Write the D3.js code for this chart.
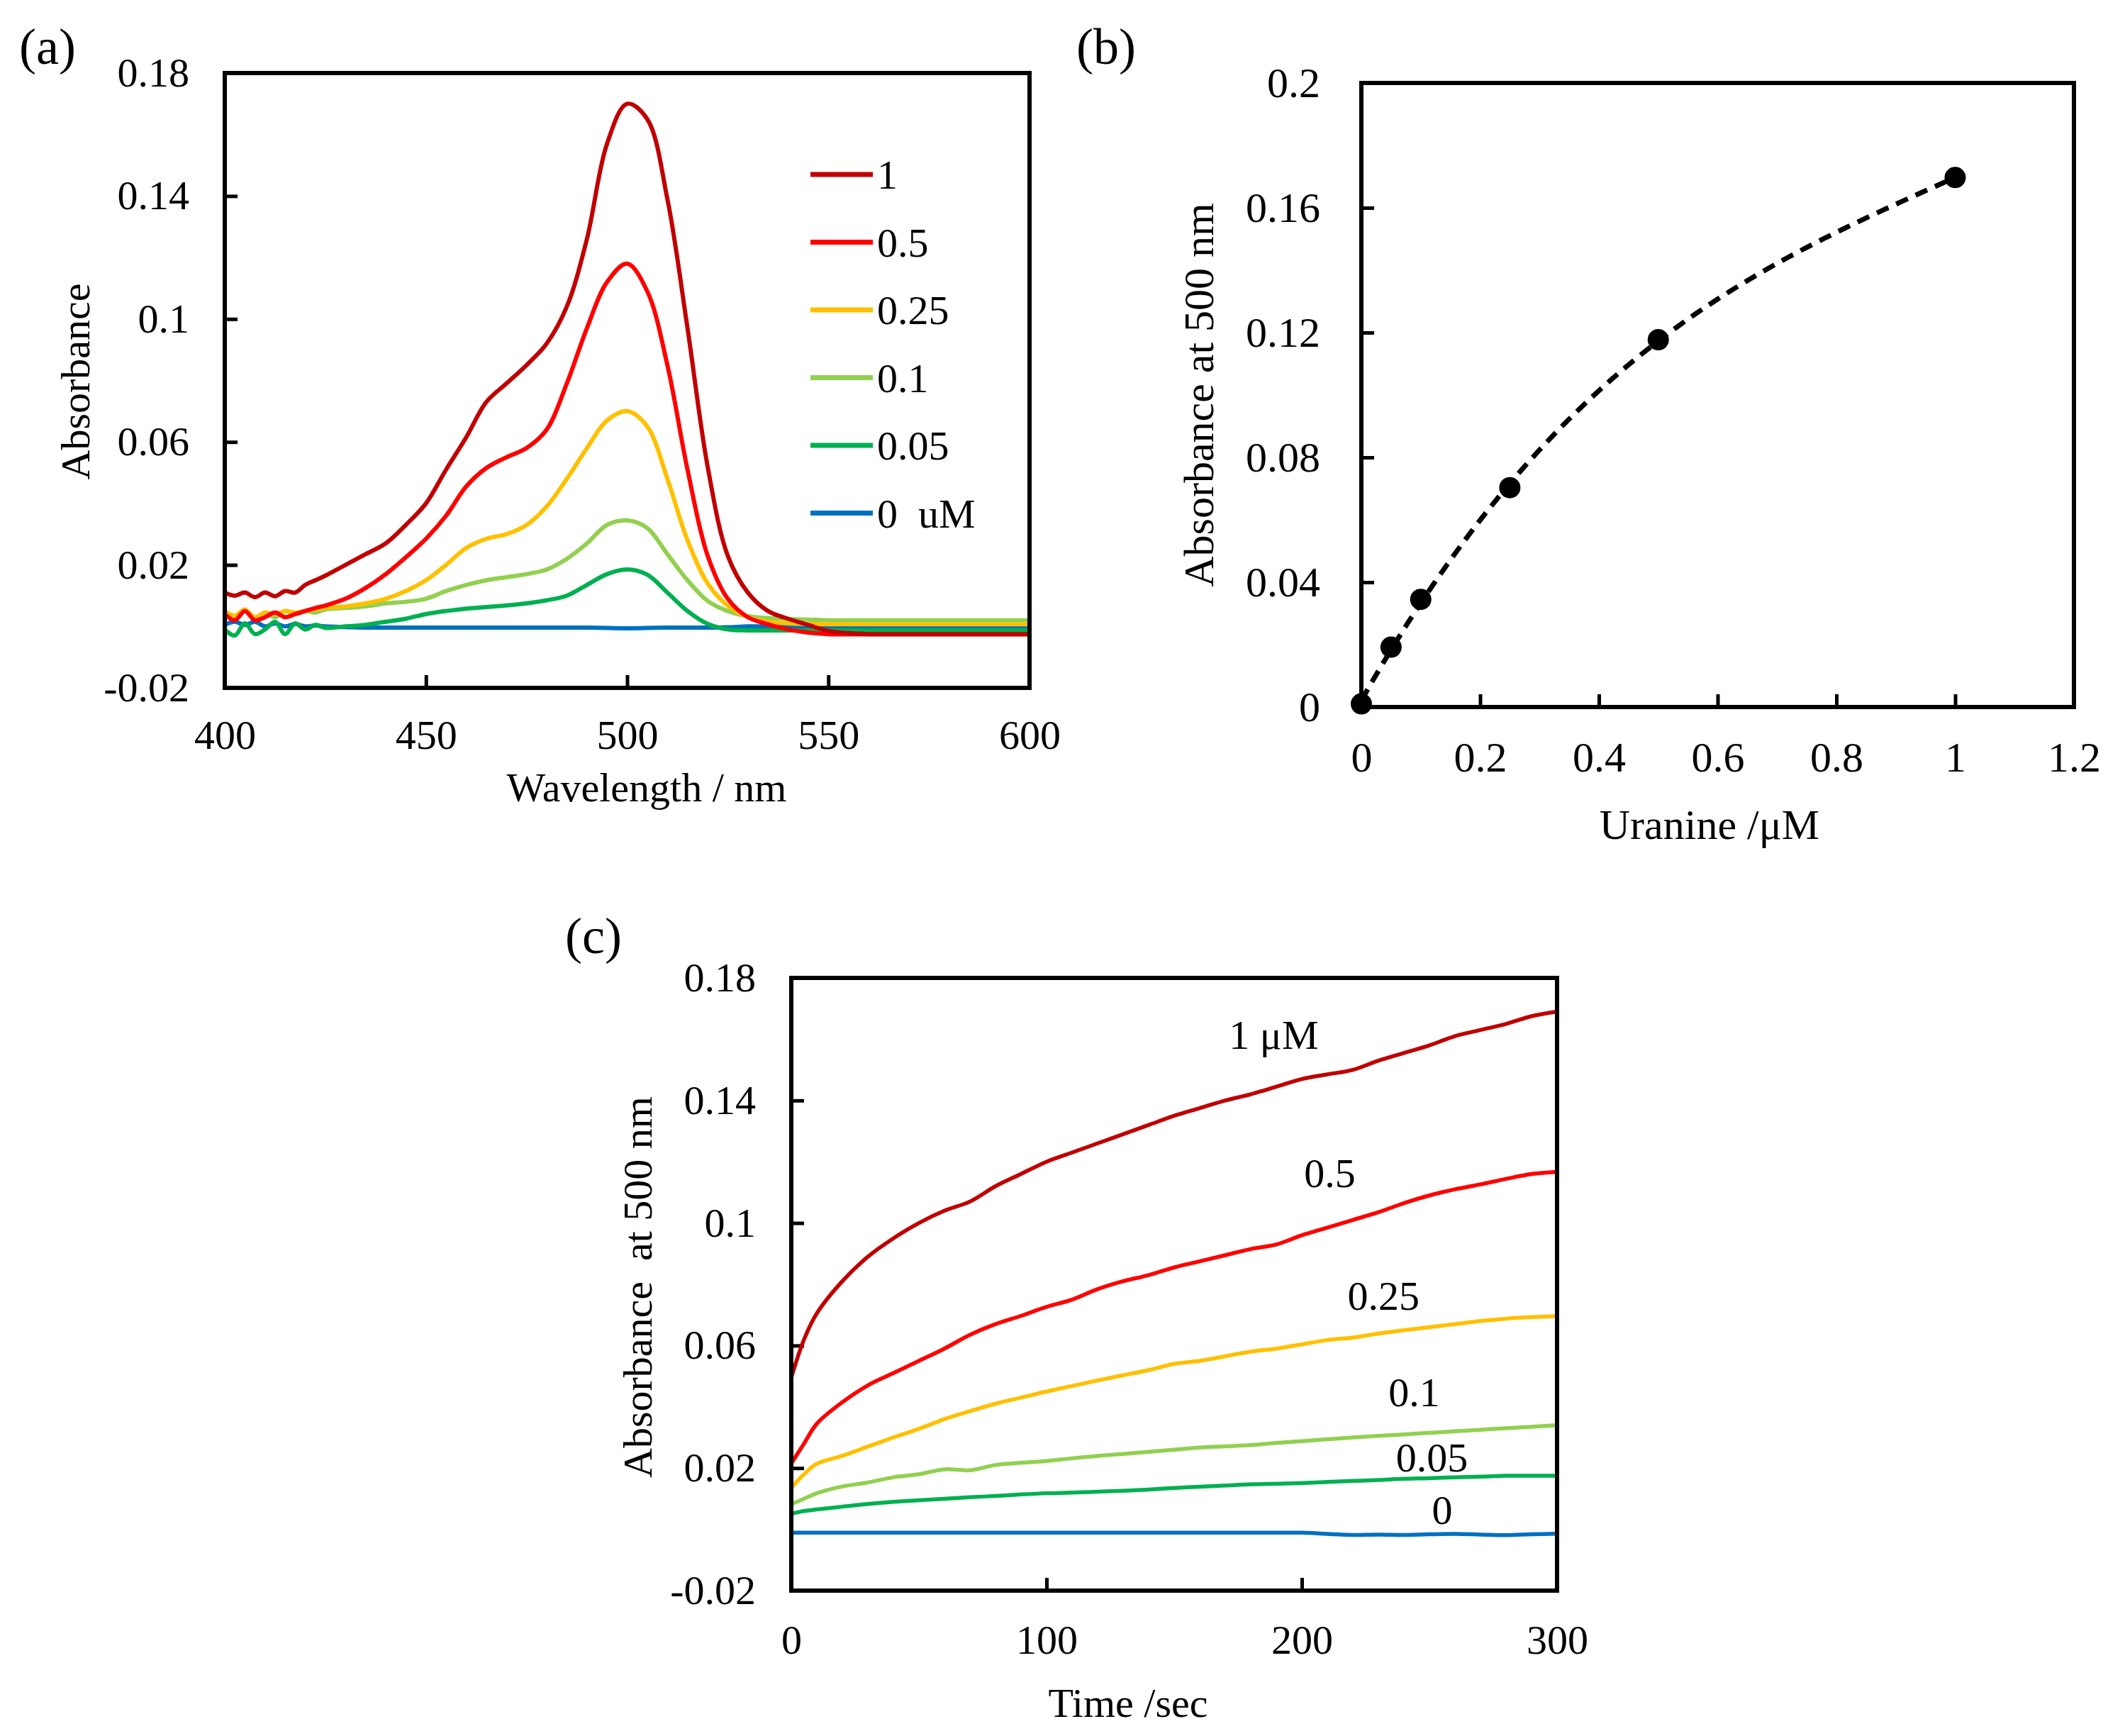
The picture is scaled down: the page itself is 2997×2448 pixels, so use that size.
<!DOCTYPE html>
<html>
<head>
<meta charset="utf-8">
<script src="https://cdn.jsdelivr.net/npm/d3@7"></script>
<style>
  body { margin: 0; background: #fff; }
  text { font-family: "Liberation Serif", "Times New Roman", serif; fill: #000; white-space: pre; }
</style>
</head>
<body>
<div id="chart"></div>
<script>
const W = 2997, H = 2448;

// ---- panel (a): absorption spectra ----
const wavelengths = [400, 402.5, 405, 407.5, 410, 412.5, 415, 417.5, 420, 422.5, 425,
  430, 435, 440, 445, 450, 455, 460, 465, 470, 475, 480, 485, 490, 495, 500,
  505, 510, 515, 520, 525, 530, 535, 540, 545, 550, 555, 560, 565, 570, 575,
  580, 585, 590, 595, 600];
const spec1 = [0.011, 0.010, 0.011, 0.0095, 0.011, 0.0098, 0.0115, 0.011, 0.0135, 0.015, 0.0165,
  0.020, 0.0235, 0.027, 0.033, 0.040, 0.051, 0.0615, 0.073, 0.079, 0.085, 0.092, 0.104, 0.126, 0.157, 0.170,
  0.165, 0.139, 0.097, 0.052, 0.023, 0.011, 0.005, 0.0025, 0.0005, -0.0015, -0.0022, -0.0025, -0.0025, -0.0025, -0.0025,
  -0.0025, -0.0025, -0.0025, -0.0025, -0.0025];
const spec05 = [0.004, 0.002, 0.005, 0.002, 0.003, 0.0045, 0.003, 0.004, 0.005, 0.006, 0.0068,
  0.009, 0.0125, 0.017, 0.0225, 0.0285, 0.036, 0.0455, 0.0515, 0.055, 0.058, 0.064, 0.079, 0.097, 0.112, 0.118,
  0.109, 0.085, 0.051, 0.023, 0.009, 0.003, 0.0007, -0.001, -0.002, -0.0025, -0.0026, -0.0026, -0.0026, -0.0026, -0.0026,
  -0.0026, -0.0026, -0.0026, -0.0026, -0.0026];
const spec025 = [0.005, 0.0035, 0.0055, 0.003, 0.0045, 0.004, 0.005, 0.0045, 0.005, 0.0055, 0.006,
  0.0065, 0.0075, 0.009, 0.0115, 0.015, 0.020, 0.0255, 0.0285, 0.030, 0.033, 0.039, 0.048, 0.058, 0.067, 0.070,
  0.065, 0.048, 0.028, 0.014, 0.0067, 0.003, 0.0015, 0.001, 0.0008, 0.0007, 0.0007, 0.0007, 0.0007, 0.0007, 0.0007,
  0.0007, 0.0007, 0.0007, 0.0007, 0.0007];
const spec01 = [0.005, 0.003, 0.005, 0.0025, 0.0045, 0.003, 0.005, 0.004, 0.005, 0.0045, 0.0055,
  0.006, 0.0065, 0.0075, 0.008, 0.009, 0.0115, 0.0135, 0.015, 0.016, 0.017, 0.0185, 0.022, 0.027, 0.033, 0.0345,
  0.032, 0.0235, 0.015, 0.0083, 0.005, 0.0033, 0.0027, 0.0024, 0.0022, 0.002, 0.002, 0.002, 0.002, 0.002, 0.002,
  0.002, 0.002, 0.002, 0.002, 0.002];
const spec005 = [-0.001, -0.003, 0.001, -0.0025, -0.001, 0.0015, -0.0025, 0.001, -0.001, 0.0005, -0.0005,
  0.0, 0.0005, 0.0015, 0.0025, 0.004, 0.005, 0.0058, 0.0063, 0.0068, 0.0075, 0.0085, 0.010, 0.0135, 0.017, 0.0185,
  0.0168, 0.011, 0.005, 0.0008, -0.001, -0.0013, -0.0013, -0.0013, -0.0013, -0.0013, -0.0013, -0.0013, -0.0013, -0.0013, -0.0013,
  -0.0013, -0.0013, -0.0013, -0.0013, -0.0013];
const spec0 = [0.0005, 0.0015, 0.0005, 0.0015, 0.0, 0.001, 0.0, 0.0008, 0.0, 0.0003, 0.0,
  -0.0002, -0.0004, -0.0004, -0.0004, -0.0004, -0.0004, -0.0004, -0.0004, -0.0004, -0.0004, -0.0004, -0.0004, -0.0004, -0.0005, -0.0006,
  -0.0005, -0.0004, -0.0004, -0.0004, -0.0003, 0.0, 0.0, 0.0, -0.0002, -0.0002, -0.0002, -0.0002, -0.0002, -0.0002, -0.0002,
  -0.0002, -0.0002, -0.0002, -0.0002, -0.0002];

const concLabels = ["1", "0.5", "0.25", "0.1", "0.05", "0  uM"];
const concColors = ["#C00000", "#FF0000", "#FFC000", "#92D050", "#00B050", "#0070C0"];
const spectra = [spec1, spec05, spec025, spec01, spec005, spec0];

const absTicks = [-0.02, 0.02, 0.06, 0.1, 0.14, 0.18];
const wlTicks = [400, 450, 500, 550, 600];

// ---- panel (b): calibration ----
const uranineConc = [0, 0.05, 0.1, 0.25, 0.5, 1];
const abs500 = [0.001, 0.0192, 0.0345, 0.0703, 0.1177, 0.1697];
const concTicks = [0, 0.2, 0.4, 0.6, 0.8, 1, 1.2];
const abs500Ticks = [0, 0.04, 0.08, 0.12, 0.16, 0.2];

// ---- panel (c): kinetics ----
const times = [0, 5, 10, 20, 30, 40, 50, 60, 70, 80, 90, 100, 110, 120, 130, 140, 150,
  160, 170, 180, 190, 200, 210, 220, 230, 240, 250, 260, 270, 280, 290, 300];
const kin1 = [0.0495, 0.062, 0.0705, 0.081, 0.089, 0.095, 0.100, 0.104, 0.107, 0.112, 0.116, 0.120, 0.123, 0.126, 0.129, 0.132, 0.135,
  0.1375, 0.140, 0.142, 0.1445, 0.147, 0.1485, 0.150, 0.153, 0.1555, 0.158, 0.161, 0.163, 0.165, 0.1675, 0.169];
const kin05 = [0.0215, 0.028, 0.0345, 0.0415, 0.047, 0.051, 0.055, 0.059, 0.0635, 0.067, 0.0697, 0.0726, 0.075, 0.0784, 0.081, 0.083, 0.0855,
  0.0875, 0.0895, 0.0915, 0.093, 0.096, 0.0985, 0.101, 0.1035, 0.1065, 0.109, 0.111, 0.1126, 0.1144, 0.116, 0.1167];
const kin025 = [0.0135, 0.018, 0.0214, 0.024, 0.027, 0.030, 0.0328, 0.036, 0.0386, 0.041, 0.043, 0.045, 0.0468, 0.0486, 0.0503, 0.052, 0.054,
  0.055, 0.0565, 0.058, 0.059, 0.0604, 0.0618, 0.0626, 0.0639, 0.065, 0.066, 0.067, 0.068, 0.0688, 0.0693, 0.0696];
const kin01 = [0.0082, 0.010, 0.0118, 0.014, 0.0153, 0.017, 0.018, 0.0196, 0.0193, 0.021, 0.0217, 0.0223, 0.0232, 0.024, 0.0246, 0.0253, 0.026,
  0.0267, 0.0271, 0.0275, 0.0282, 0.0288, 0.0294, 0.030, 0.0305, 0.031, 0.0315, 0.032, 0.0325, 0.033, 0.0335, 0.034];
const kin005 = [0.0051, 0.006, 0.0065, 0.0074, 0.0083, 0.009, 0.0095, 0.010, 0.0105, 0.0109, 0.0114, 0.0118, 0.012, 0.0123, 0.0126, 0.013, 0.0135,
  0.0139, 0.0143, 0.0147, 0.0149, 0.0151, 0.0155, 0.0158, 0.0161, 0.0165, 0.0167, 0.017, 0.0172, 0.0175, 0.0175, 0.0175];
const kin0 = [-0.0011, -0.0011, -0.0011, -0.0011, -0.0011, -0.0011, -0.0011, -0.0011, -0.0011, -0.0011, -0.0011, -0.0011, -0.0011, -0.0011, -0.0011, -0.0011, -0.0011,
  -0.0011, -0.0011, -0.0011, -0.0011, -0.0011, -0.0015, -0.0018, -0.0017, -0.0018, -0.0016, -0.0015, -0.0017, -0.0019, -0.0016, -0.0014];
const kinetics = [kin1, kin05, kin025, kin01, kin005, kin0];
const kinLabels = ["1 μM", "0.5", "0.25", "0.1", "0.05", "0"];
const kinLabelX = [189, 211, 232, 244, 251, 255];
const kinLabelY = [0.1616, 0.1164, 0.0764, 0.0449, 0.0235, 0.0065];
const timeTicks = [0, 100, 200, 300];

const svg = d3.select("#chart").append("svg")
  .attr("width", W)
  .attr("height", H);

const fmt = d => String(+d.toFixed(2));

// least squares polynomial (trendline for panel b)
function polyfit(xs, ys, deg) {
  const n = deg + 1;
  const A = Array.from({ length: n }, () => new Array(n + 1).fill(0));
  xs.forEach((xv, k) => {
    for (let i = 0; i < n; i++) {
      for (let j = 0; j < n; j++) A[i][j] += Math.pow(xv, i + j);
      A[i][n] += ys[k] * Math.pow(xv, i);
    }
  });
  for (let i = 0; i < n; i++) {
    let p = i;
    for (let r = i + 1; r < n; r++) if (Math.abs(A[r][i]) > Math.abs(A[p][i])) p = r;
    [A[i], A[p]] = [A[p], A[i]];
    for (let r = 0; r < n; r++) {
      if (r === i) continue;
      const f = A[r][i] / A[i][i];
      for (let c = i; c <= n; c++) A[r][c] -= f * A[i][c];
    }
  }
  const coef = A.map((row, i) => row[n] / row[i]);
  return xv => coef.reduce((s, c, i) => s + c * Math.pow(xv, i), 0);
}

function panel(box, xDomain, yDomain, xTicks, yTicks, id) {
  const w = box.right - box.left, h = box.bottom - box.top;
  const g = svg.append("g").attr("transform", `translate(${box.left},${box.top})`);
  const x = d3.scaleLinear().domain(xDomain).range([0, w]);
  const y = d3.scaleLinear().domain(yDomain).range([h, 0]);

  g.append("clipPath").attr("id", id)
    .append("rect").attr("width", w).attr("height", h);

  const xa = g.append("g").attr("transform", `translate(0,${h})`)
    .call(d3.axisBottom(x).tickValues(xTicks).tickFormat(fmt).tickSize(-18).tickSizeOuter(0).tickPadding(box.xPad));
  const ya = g.append("g")
    .call(d3.axisLeft(y).tickValues(yTicks).tickFormat(fmt).tickSize(-18).tickSizeOuter(0).tickPadding(box.yPad));
  [xa, ya].forEach(a => {
    a.select(".domain").remove();
    a.selectAll(".tick line").attr("stroke", "#000").attr("stroke-width", 5);
    a.selectAll(".tick text").attr("font-family", "Liberation Serif").attr("font-size", box.font);
  });

  const plot = g.append("g").attr("clip-path", `url(#${id})`);
  g.append("rect").attr("width", w).attr("height", h)
    .attr("fill", "none").attr("stroke", "#000").attr("stroke-width", 6);
  return { g, x, y, w, h, plot };
}

// (a)
const pa = panel({ left: 317, top: 103, right: 1452, bottom: 970, xPad: 45, yPad: 50, font: 58 },
  [400, 600], [-0.02, 0.18], wlTicks, absTicks, "clipA");
const lineA = d3.line()
  .x((d, i) => pa.x(wavelengths[i]))
  .y(d => pa.y(d))
  .curve(d3.curveCatmullRom.alpha(0.5));
spectra.slice().reverse().forEach((s, k) => {
  const i = spectra.length - 1 - k;
  pa.plot.append("path").datum(s)
    .attr("d", lineA)
    .attr("fill", "none")
    .attr("stroke", concColors[i])
    .attr("stroke-width", 6)
    .attr("stroke-linejoin", "round");
});
const legend = pa.g.append("g").attr("transform", `translate(${1143 - 317},${246 - 103})`);
concLabels.forEach((lab, i) => {
  const row = legend.append("g").attr("transform", `translate(0,${i * 95.5})`);
  row.append("line").attr("x1", 0).attr("x2", 88).attr("y1", 0).attr("y2", 0)
    .attr("stroke", concColors[i]).attr("stroke-width", 7);
  row.append("text").attr("x", 94).attr("y", 0).attr("dy", "0.35em")
    .attr("font-size", 58).text(lab);
});
svg.append("text").attr("x", 27).attr("y", 90).attr("font-size", 72).text("(a)");
svg.append("text").attr("transform", "translate(106,538) rotate(-90)")
  .attr("text-anchor", "middle").attr("dy", "0.35em").attr("font-size", 58).text("Absorbance");
svg.append("text").attr("x", 912).attr("y", 1110).attr("dy", "0.35em")
  .attr("text-anchor", "middle").attr("font-size", 58).text("Wavelength / nm");

// (b)
const pb = panel({ left: 1920, top: 117, right: 2925, bottom: 997, xPad: 48, yPad: 58, font: 60 },
  [0, 1.2], [0, 0.2], concTicks, abs500Ticks, "clipB");
const trend = polyfit(uranineConc, abs500, 3);
const trendX = d3.range(0, 1.0001, 0.01);
pb.g.append("path").datum(trendX)
  .attr("d", d3.line().x(d => pb.x(d)).y(d => pb.y(trend(d))))
  .attr("fill", "none").attr("stroke", "#000").attr("stroke-width", 7)
  .attr("stroke-dasharray", "18,12");
pb.g.selectAll("circle.pt").data(uranineConc).enter().append("circle")
  .attr("class", "pt")
  .attr("cx", d => pb.x(d))
  .attr("cy", (d, i) => pb.y(abs500[i]))
  .attr("r", 15)
  .attr("fill", "#000");
svg.append("text").attr("x", 1518).attr("y", 90).attr("font-size", 72).text("(b)");
svg.append("text").attr("transform", "translate(1690,557) rotate(-90)")
  .attr("text-anchor", "middle").attr("dy", "0.35em").attr("font-size", 60).text("Absorbance at 500 nm");
svg.append("text").attr("x", 2411).attr("y", 1162).attr("dy", "0.35em")
  .attr("text-anchor", "middle").attr("font-size", 60).text("Uranine /μM");

// (c)
const pc = panel({ left: 1116, top: 1379, right: 2196, bottom: 2243, xPad: 48, yPad: 50, font: 58 },
  [0, 300], [-0.02, 0.18], timeTicks, absTicks, "clipC");
const lineC = d3.line()
  .x((d, i) => pc.x(times[i]))
  .y(d => pc.y(d))
  .curve(d3.curveCatmullRom.alpha(0.5));
kinetics.forEach((s, i) => {
  pc.plot.append("path").datum(s)
    .attr("d", lineC)
    .attr("fill", "none")
    .attr("stroke", concColors[i])
    .attr("stroke-width", 5.5)
    .attr("stroke-linejoin", "round");
});
kinLabels.forEach((lab, i) => {
  pc.g.append("text")
    .attr("x", pc.x(kinLabelX[i]))
    .attr("y", pc.y(kinLabelY[i]))
    .attr("dy", "0.35em")
    .attr("text-anchor", "middle")
    .attr("font-size", 58)
    .text(lab);
});
svg.append("text").attr("x", 797).attr("y", 1344).attr("font-size", 72).text("(c)");
svg.append("text").attr("transform", "translate(899,1815) rotate(-90)")
  .attr("text-anchor", "middle").attr("dy", "0.35em").attr("font-size", 58)
  .text("Absorbance  at 500 nm");
svg.append("text").attr("x", 1591).attr("y", 2401).attr("dy", "0.35em")
  .attr("text-anchor", "middle").attr("font-size", 58).text("Time /sec");
</script>
</body>
</html>
